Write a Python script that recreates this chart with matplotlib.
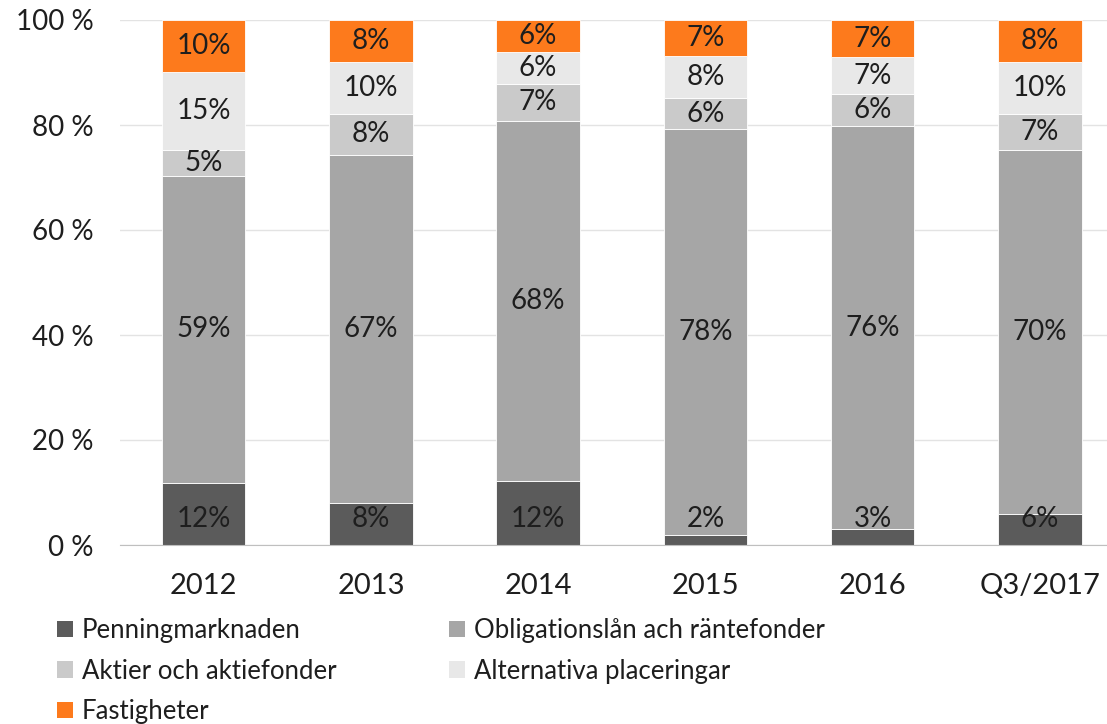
import matplotlib.pyplot as plt
import numpy as np

# kategorier och andelar (procent) per placeringsslag
years = ["2012", "2013", "2014", "2015", "2016", "Q3/2017"]
penning = [12, 8, 12, 2, 3, 6]
obligation = [59, 67, 68, 78, 76, 70]
aktier = [5, 8, 7, 6, 6, 7]
alternativa = [15, 10, 6, 8, 7, 10]
fastigheter = [10, 8, 6, 7, 7, 8]

names = ["Penningmarknaden", "Obligationslån ach räntefonder",
         "Aktier och aktiefonder", "Alternativa placeringar", "Fastigheter"]
colors = ["#5b5b5b", "#a6a6a6", "#cacaca", "#e8e8e8", "#fd7a1c"]

plt.rcParams['font.family'] = ['Lato', 'DejaVu Sans']

series = np.array([penning, obligation, aktier, alternativa, fastigheter], dtype=float)
shares = series / series.sum(axis=0) * 100  # 100 % staplad

fig = plt.figure(figsize=(11.07, 7.24), dpi=100)
ax = fig.add_axes([120 / 1107, 1 - 545 / 724, 1 - 120 / 1107, 525 / 724])

x = np.arange(len(years))
bottom = np.zeros(len(years))
bars = []
for i in range(len(names)):
    b = ax.bar(x, shares[i], 0.5, bottom=bottom, color=colors[i],
               edgecolor="white", linewidth=0.6, label=names[i], zorder=2)
    bars.append(b)
    for j in range(len(years)):
        ypos = bottom[j] + shares[i][j] / 2
        if i == 0:
            ypos = 5  # penningmarknadens etiketter i ett fast band längst ned
        ax.text(x[j], ypos, f"{int(series[i][j])}%",
                ha="center", va="center", fontsize=20, color="#1e1e1e",
                zorder=3)
    bottom += shares[i]

ax.set_ylim(0, 100)
ax.set_xlim(-0.5, 5.5 - (1123.5 - 1107) / 167)
ax.set_yticks(range(0, 101, 20))
ax.set_yticklabels([f"{v} %" for v in range(0, 101, 20)], fontsize=20,
                   color="#1e1e1e")
ax.set_xticks(x)
ax.set_xticklabels(years, fontsize=21, color="#1e1e1e")
ax.tick_params(axis="both", length=0)
ax.tick_params(axis="y", pad=19)
ax.tick_params(axis="x", pad=20)
ax.grid(axis="y", color="#e3e3e3", linewidth=1, zorder=0)
for s in ["top", "right", "left"]:
    ax.spines[s].set_visible(False)
ax.spines["bottom"].set_color("#bfbfbf")

# legenden i två kolumner, radvis ordning
order = [0, 2, 4, 1, 3]
leg = fig.legend([bars[k] for k in order], [names[k] for k in order],
                 loc="upper left", bbox_to_anchor=(34 / 1107, 1 - 595 / 724),
                 ncol=2, frameon=False, handlelength=0.6,
                 handleheight=0.6, handletextpad=0.35, columnspacing=4.4,
                 labelspacing=0.6, prop={'size': 18.5})
for h in leg.legend_handles:
    h.set_edgecolor("none")
for t in leg.get_texts():
    t.set_color("#1e1e1e")

fig.savefig("out.png", dpi=100)
